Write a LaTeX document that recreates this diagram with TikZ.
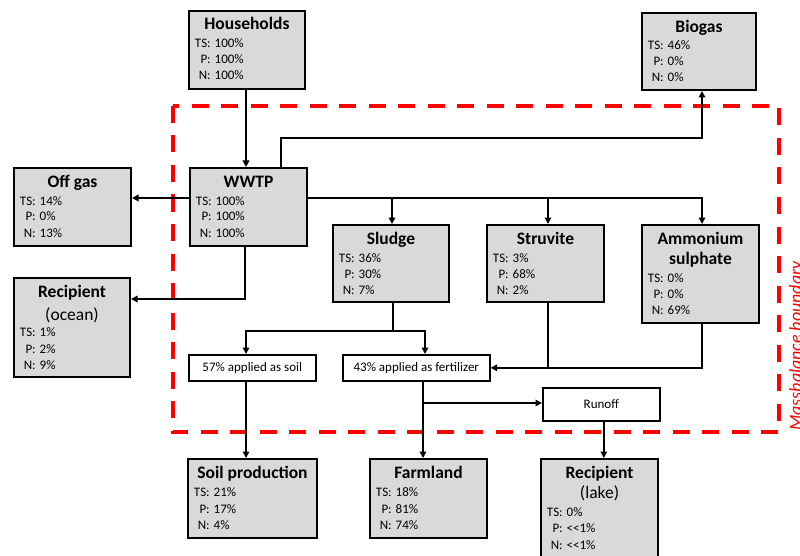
\documentclass[tikz,border=0pt]{standalone}
\usepackage{fontspec}
\setmainfont{Carlito}
\usetikzlibrary{arrows.meta,calc}
\definecolor{boxgray}{RGB}{217,217,217}
\definecolor{bred}{RGB}{255,0,0}
\tikzset{
 box/.style={draw=black, fill=boxgray, line width=2pt, inner sep=0pt, anchor=north west},
 wbox/.style={draw=black, fill=white, line width=1.6pt, inner sep=0pt, anchor=north west, font=\fontsize{13}{15}\selectfont},
 ttl/.style={inner sep=0pt, anchor=base, font=\fontsize{17.5}{20}\selectfont\bfseries},
 sub/.style={inner sep=0pt, anchor=base, font=\fontsize{17.5}{20}\selectfont},
 val/.style={inner sep=0pt, anchor=base west, font=\fontsize{13}{16}\selectfont},
 arr/.style={line width=1.8pt, -{Triangle[length=6.5pt,width=6.5pt]}},
 ln/.style={line width=1.8pt},
 boundary/.style={draw=bred, line width=4pt, dash pattern=on 17pt off 12.5pt},
}
\newcommand{\dbox}[5]{\node[box, minimum width=#4pt, minimum height=#5pt] (#1) at (#2,-#3) {};}
\newcommand{\ttlrow}[4]{\node[ttl] (#1-#2) at ([yshift=-#3pt]#1.north) {#4};}
\newcommand{\subrow}[4]{\node[sub] (#1-#2) at ([yshift=-#3pt]#1.north) {#4};}
\newcommand{\valrow}[5]{\node[val] (#1-#2) at ([xshift=6.5pt,yshift=-#3pt]#1.north west) {\makebox[16pt][r]{#4}\hspace{4pt}#5};}
\newcommand{\threevals}[7]{% box, b1, b2, b3, ts, p, n
 \valrow{#1}{ts}{#2}{TS:}{#5}
 \valrow{#1}{p}{#3}{P:}{#6}
 \valrow{#1}{n}{#4}{N:}{#7}}
\begin{document}
\begin{tikzpicture}[x=1pt,y=1pt]
\useasboundingbox (0,0) rectangle (800,-556);
\clip (0,0) rectangle (800,-556);
% boundary
\draw[boundary] (172.5,-106) rectangle (779,-432);
\node[rotate=90, anchor=base, text=bred, font=\fontsize{18}{20}\selectfont\itshape, inner sep=0pt] (mb) at (801.5,-346) {Massbalance boundary};

% boxes
\dbox{hh}{188}{10}{116}{78}
\ttlrow{hh}{t}{20}{Households}
\threevals{hh}{38}{54}{70}{100\%}{100\%}{100\%}

\dbox{biogas}{641}{12}{114}{77}
\ttlrow{biogas}{t}{20.5}{Biogas}
\threevals{biogas}{38}{54}{70}{46\%}{0\%}{0\%}

\dbox{wwtp}{189}{167}{117}{78}
\ttlrow{wwtp}{t}{20.5}{WWTP}
\threevals{wwtp}{38}{54}{70}{100\%}{100\%}{100\%}

\dbox{offgas}{13}{167}{117}{78}
\ttlrow{offgas}{t}{20.5}{Off gas}
\threevals{offgas}{38}{54}{70}{14\%}{0\%}{13\%}

\dbox{ocean}{13}{277}{116}{99}
\ttlrow{ocean}{t}{20.5}{Recipient}
\subrow{ocean}{s}{43.5}{(ocean)}
\threevals{ocean}{59}{76}{92}{1\%}{2\%}{9\%}

\dbox{sludge}{332}{224}{116}{77}
\ttlrow{sludge}{t}{20.5}{Sludge}
\threevals{sludge}{38}{54}{70}{36\%}{30\%}{7\%}

\dbox{struv}{486}{224}{117}{77}
\ttlrow{struv}{t}{20.5}{Struvite}
\threevals{struv}{38}{54}{70}{3\%}{68\%}{2\%}

\dbox{amm}{641}{224}{117}{98}
\ttlrow{amm}{t}{20.5}{Ammonium}
\ttlrow{amm}{t2}{40.5}{sulphate}
\threevals{amm}{58.5}{74.5}{90.5}{0\%}{0\%}{69\%}

\node[wbox, minimum width=127pt, minimum height=26pt] (soilbox) at (188,-354) {57\% applied as soil};
\node[wbox, minimum width=147pt, minimum height=26pt] (fertbox) at (342,-354) {43\% applied as fertilizer};
\node[wbox, minimum width=117pt, minimum height=33pt] (runoff) at (542,-387) {Runoff};

\dbox{soilp}{187}{458}{129}{79}
\ttlrow{soilp}{t}{20.5}{Soil production}
\threevals{soilp}{38}{55}{71}{21\%}{17\%}{4\%}

\dbox{farm}{369}{458}{117}{79}
\ttlrow{farm}{t}{20.5}{Farmland}
\threevals{farm}{38}{55}{71}{18\%}{81\%}{74\%}

\dbox{lake}{540}{458}{117}{112}
\ttlrow{lake}{t}{20.5}{Recipient}
\subrow{lake}{s}{40.5}{(lake)}
\threevals{lake}{58.5}{74.5}{91}{0\%}{<\kern0pt<1\%}{<\kern0pt<1\%}

% connectors
\coordinate (hhS) at ([xshift=-1pt]hh.south);
\draw[arr] (hhS) -- (hhS |- wwtp.north);

\coordinate (wN) at ([xshift=32.5pt]wwtp.north);
\coordinate (bgturn) at (702,-138);
\draw[arr] (wN) |- (bgturn) -- (bgturn |- biogas.south);

\coordinate (wW) at ([yshift=9pt]wwtp.west);
\draw[arr] (wW) -- (wW -| offgas.east);

\coordinate (oceanturn) at (245,-299);
\draw[arr] (wwtp.south -| oceanturn) -- (oceanturn) -- (oceanturn -| ocean.east);

\coordinate (bus) at ([yshift=9pt]wwtp.east);
\coordinate (aN) at (702,-224);
\draw[arr] (bus) -| (aN);
\coordinate (slN) at ([xshift=1pt]sludge.north);
\draw[arr] (slN |- bus) -- (slN);
\coordinate (stN) at ([xshift=2.5pt]struv.north);
\draw[arr] (stN |- bus) -- (stN);

\coordinate (slS) at ([xshift=2pt]sludge.south);
\coordinate (sl) at (246,-331);
\coordinate (sr) at (425,-331);
\draw[arr] (slS) |- (sl) -- (sl |- soilbox.north);
\draw[arr] (slS |- sl) -| (sr |- fertbox.north);

\coordinate (aS) at (702,-322);
\draw[arr] (aS) |- (fertbox.east);
\coordinate (stS) at ([xshift=2.5pt]struv.south);
\draw[ln] (stS) -- (stS |- fertbox.east);

\draw[arr] (soilbox.south -| sl) -- (sl |- soilp.north);
\coordinate (fx) at (423,-380);
\draw[arr] (fertbox.south -| fx) -- (fx |- farm.north);
\coordinate (ro) at (423,-403);
\draw[arr] (ro) -- (ro -| runoff.west);
\coordinate (rS) at ([xshift=2.5pt]runoff.south);
\draw[arr] (rS) -- (rS |- lake.north);
\end{tikzpicture}
\end{document}
